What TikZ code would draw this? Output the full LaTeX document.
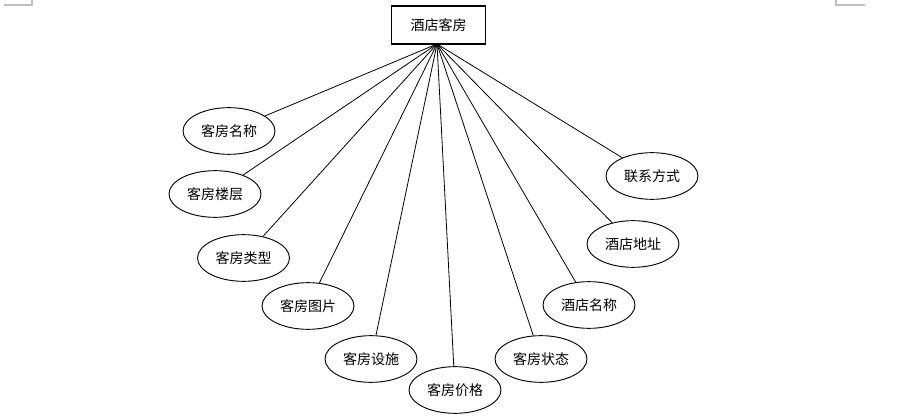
\documentclass[tikz,border=0pt]{standalone}
\usepackage{fontspec}
\newfontfamily\cjk{Noto Sans CJK SC}
\usetikzlibrary{shapes.geometric}
\definecolor{cornermark}{HTML}{BFBFBF}
\tikzset{
  entitybox/.style={draw, line width=0.8pt, minimum width=70pt, minimum height=28.5pt,
    inner sep=0pt, font=\cjk\fontsize{10.5}{12}\selectfont},
  attrnode/.style={ellipse, draw, line width=0.7pt, minimum width=69pt, minimum height=35pt,
    inner sep=0pt, font=\cjk\fontsize{10.5}{12}\selectfont},
  link/.style={line width=0.6pt},
  cornerline/.style={draw=cornermark, line width=0.8pt}
}
\begin{document}
\begin{tikzpicture}[x=0.75pt,y=-0.75pt]
  \useasboundingbox (0,0) rectangle (899,420);
  % page corner marks
  \draw[cornerline] (4,5) -- (32,5) -- (32,0);
  \draw[cornerline] (836,0) -- (836,5) -- (865,5);
  % entity
  \node[entitybox] (room) at (438.5,25) {酒店客房};
  \coordinate (hub) at (437,44);
  % attributes
  \foreach \id/\px/\py/\txt in {
      name/229/131/客房名称,
      floor/215/194/客房楼层,
      type/243.5/258/客房类型,
      pic/308/306/客房图片,
      equip/371/359/客房设施,
      price/455/390/客房价格,
      state/541/359/客房状态,
      hotel/589/305/酒店名称,
      addr/633/244/酒店地址,
      phone/652/176/联系方式} {
    \node[attrnode] (\id) at (\px,\py) {\txt};
    \draw[link] (hub) -- (\id);
  }
\end{tikzpicture}
\end{document}
